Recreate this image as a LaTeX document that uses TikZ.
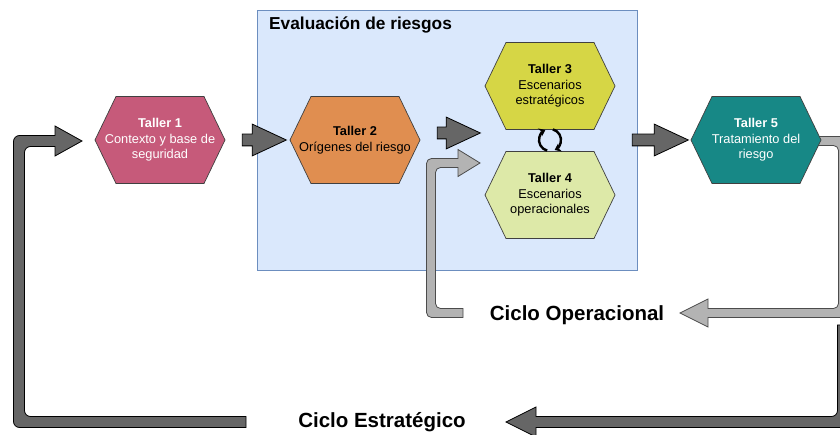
\documentclass[tikz,border=0pt]{standalone}
\usepackage{fontspec}
\setmainfont{Liberation Sans}
\usetikzlibrary{shapes.arrows,arrows.meta}

\definecolor{cajafondo}{HTML}{DAE8FC}
\definecolor{cajaborde}{HTML}{6C8EBF}
\definecolor{taller1}{HTML}{C65A7A}
\definecolor{taller2}{HTML}{E08E50}
\definecolor{taller3}{HTML}{D6D645}
\definecolor{taller4}{HTML}{DDE9A8}
\definecolor{taller5}{HTML}{178886}
\definecolor{oscuro}{HTML}{666666}
\definecolor{claro}{HTML}{B3B3B3}

\tikzset{
  hexa/.style={draw=black!75, line width=0.7pt},
  taller/.style={minimum width=130pt, minimum height=87pt, inner sep=0pt,
    align=center, font=\fontsize{12.8}{15.5}\selectfont},
  flecha/.style={single arrow, draw=black, fill=oscuro, line width=0.8pt,
    inner xsep=0pt, inner ysep=5.5pt, single arrow head extend=10pt,
    single arrow tip angle=50, minimum height=#1},
  ciclo/.style={font=\fontsize{20.5}{24}\selectfont\bfseries, inner sep=0pt}
}

\begin{document}
\begin{tikzpicture}[x=1pt, y=-1pt]
\clip (0,0) rectangle (840,435);
\fill[white] (0,0) rectangle (840,435);

% evaluacion de riesgos
\node[draw=cajaborde, fill=cajafondo, line width=0.7pt, minimum width=380pt,
  minimum height=260pt, inner sep=0pt] (eval) at (447,140) {};
\node[anchor=west, font=\fontsize{17.3}{20}\selectfont\bfseries, inner sep=0pt]
  (evaltit) at (269,25) {Evaluación de riesgos};

% ciclo operacional
\filldraw[fill=claro, draw=black!70, line width=0.8pt]
  (815,141) -- (815,136.5) -- (825,136.5) [rounded corners=5pt] -- (847.5,136.5)
  -- (847.5,317.5) -- (760,317.5) [sharp corners] -- (708,317.5) -- (708,327)
  -- (680,313) -- (708,299) -- (708,308.5) -- (760,308.5) [rounded corners=5pt]
  -- (838.5,308.5) -- (838.5,145.5) -- (825,145.5) [sharp corners] -- (815,145.5) -- cycle;
\filldraw[fill=claro, draw=black!70, line width=0.8pt]
  (463,313) -- (463,317.5) -- (450,317.5) [rounded corners=5pt] -- (426.5,317.5)
  -- (426.5,158.5) -- (445,158.5) [sharp corners] -- (458,158.5) -- (458,149.5)
  -- (480,163) -- (458,176.5) -- (458,167.5) -- (445,167.5) [rounded corners=5pt]
  -- (435.5,167.5) -- (435.5,308.5) -- (450,308.5) [sharp corners] -- (463,308.5) -- cycle;

% ciclo estrategico
\filldraw[fill=oscuro, draw=black, line width=0.8pt]
  (246,422) -- (246,427.5) -- (200,427.5) [rounded corners=6pt] -- (13.5,427.5)
  -- (13.5,135.5) -- (40,135.5) [sharp corners] -- (55,135.5) -- (55,126)
  -- (82,141) -- (55,156) -- (55,146.5) -- (40,146.5) [rounded corners=6pt]
  -- (24.5,146.5) -- (24.5,416.5) -- (200,416.5) [sharp corners] -- (246,416.5) -- cycle;
\filldraw[fill=oscuro, draw=black, line width=0.8pt]
  (843,325) -- (849,325) -- (849,380) [rounded corners=6pt] -- (849,427.5)
  -- (600,427.5) [sharp corners] -- (536,427.5) -- (536,437) -- (506,422)
  -- (536,407) -- (536,416.5) -- (600,416.5) [rounded corners=6pt]
  -- (837.5,416.5) -- (837.5,380) [sharp corners] -- (837.5,325) -- cycle;

% talleres
\foreach \x/\y/\c in {160/140/taller1, 355/140/taller2, 550/86/taller3,
    550/195/taller4, 756/140/taller5}
  \filldraw[hexa, fill=\c] (\x-65,\y) -- (\x-44,\y-43.5) -- (\x+44,\y-43.5)
    -- (\x+65,\y) -- (\x+44,\y+43.5) -- (\x-44,\y+43.5) -- cycle;

\node[taller, text=white] (t1) at (160,140) {\textbf{Taller 1}\\Contexto y base de\\seguridad};
\node[taller] (t2) at (355,140) {\textbf{Taller 2}\\Orígenes del riesgo};
\node[taller] (t3) at (550,86) {\textbf{Taller 3}\\Escenarios\\estratégicos};
\node[taller] (t4) at (550,195) {\textbf{Taller 4}\\Escenarios\\operacionales};
\node[taller, text=white] (t5) at (756,140) {\textbf{Taller 5}\\Tratamiento del\\riesgo};

\node[flecha=44pt] (f12) at (258,140) {};
\node[flecha=43pt] (f23) at (452.5,133) {};
\node[flecha=56pt] (f45) at (654,140) {};

% giro entre talleres 3 y 4
\draw[line width=2.4pt, -{Stealth[length=6pt, width=9pt]}]
  ([shift={(105:11)}]550,140) arc[start angle=105, end angle=245, radius=11];
\draw[line width=2.4pt, -{Stealth[length=6pt, width=9pt]}]
  ([shift={(285:11)}]550,140) arc[start angle=285, end angle=425, radius=11];

\node[ciclo] (cop) at (577,315) {Ciclo Operacional};
\node[ciclo] (cest) at (382,422) {Ciclo Estratégico};
\end{tikzpicture}
\end{document}
